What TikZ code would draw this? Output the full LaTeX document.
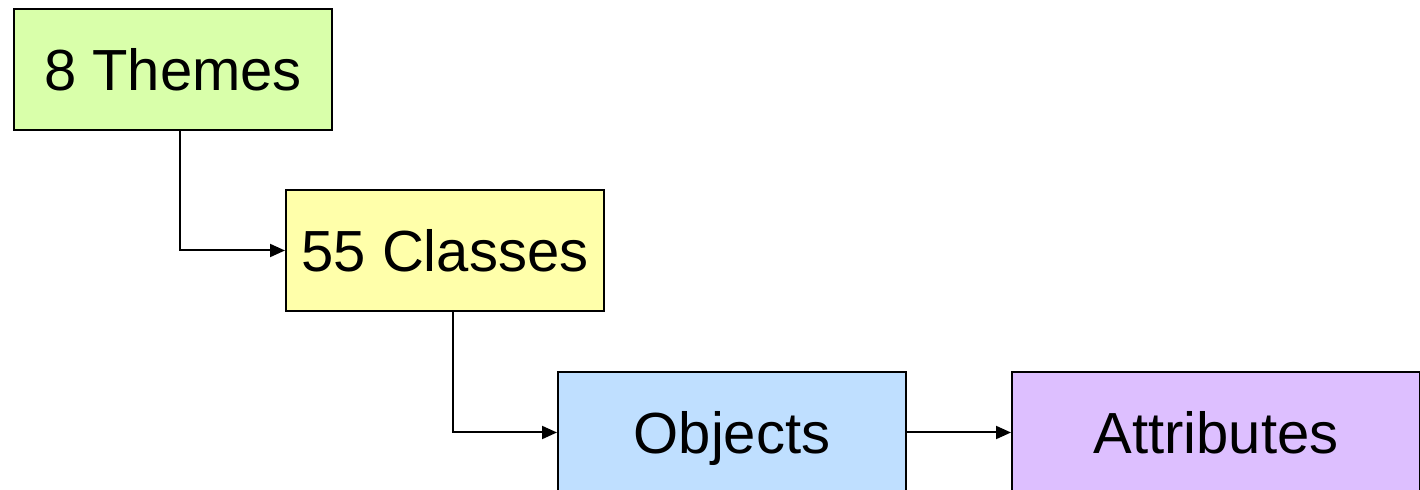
\documentclass[tikz,border=0pt]{standalone}
\usepackage{fontspec}
\setmainfont{Liberation Sans}
\usetikzlibrary{arrows.meta}
\definecolor{cgreen}{RGB}{217,255,170}
\definecolor{cyellow}{RGB}{255,255,170}
\definecolor{cblue}{RGB}{191,223,255}
\definecolor{cpurple}{RGB}{221,191,255}
\tikzset{
  box/.style={draw=black, line width=1pt, inner sep=0pt, font=\fontsize{29}{34}\selectfont,
    text height=20.8pt, text depth=0pt, minimum height=60.5pt},
  conn/.style={draw=black, line width=1pt, -{Triangle[length=7.5pt,width=6.5pt]}},
}
\begin{document}
\begin{tikzpicture}[x=0.5pt,y=-0.5pt]
\useasboundingbox (0,0) rectangle (1420,490);
\clip (0,0) rectangle (1420,490);
\node[box, fill=cgreen, minimum width=159pt] (themes) at (173,69.5) {8 Themes};
\node[box, fill=cyellow, minimum width=159pt] (classes) at (445,250.5) {55 Classes};
\node[box, fill=cblue, minimum width=174pt] (objects) at (732,432.5) {Objects};
\node[box, fill=cpurple, minimum width=204pt] (attributes) at (1216,432.5) {Attributes};
\draw[conn] ([xshift=3.5pt]themes.south) |- (classes.west);
\draw[conn] ([xshift=4pt]classes.south) |- (objects.west);
\draw[conn] (objects.east) -- (attributes.west);
\end{tikzpicture}
\end{document}
